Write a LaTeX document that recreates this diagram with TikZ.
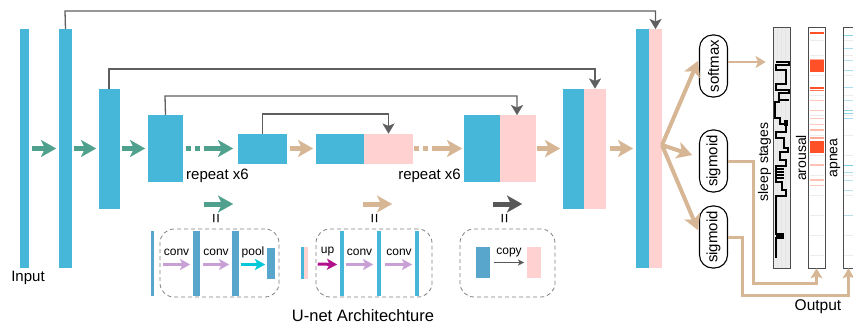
\documentclass[tikz,border=0pt]{standalone}
\usepackage{fontspec}
\setmainfont{Liberation Sans}
\usetikzlibrary{arrows.meta}
\definecolor{barblue}{RGB}{70,183,216}
\definecolor{barpink}{RGB}{255,209,209}
\definecolor{inblue}{RGB}{88,166,204}
\definecolor{ugreen}{RGB}{80,160,142}
\definecolor{utan}{RGB}{214,182,148}
\definecolor{skipgray}{RGB}{95,95,95}
\definecolor{lav}{RGB}{200,160,214}
\definecolor{pcyan}{RGB}{0,200,215}
\definecolor{umag}{RGB}{176,16,140}
\definecolor{dgray}{RGB}{88,88,88}
\definecolor{arred}{RGB}{255,80,40}
\definecolor{apcyan}{RGB}{110,200,225}
\definecolor{panelgray}{RGB}{236,236,236}
\begin{document}
\begin{tikzpicture}[x=1pt,y=-1pt,
  bar/.style={rectangle,fill=barblue,draw=none,inner sep=0pt,outer sep=0pt},
  pbar/.style={rectangle,fill=barpink,draw=none,inner sep=0pt,outer sep=0pt},
  ibar/.style={rectangle,fill=inblue,draw=none,inner sep=0pt,outer sep=0pt},
  fat/.style={line width=5pt,-{Stealth[length=15pt,width=17pt,inset=4pt,line width=0.1pt]}},
  garrow/.style={fat,draw=ugreen},
  tarrow/.style={fat,draw=utan},
  dash2/.style={dash pattern=on 5pt off 4pt on 5pt off 4pt on 60pt off 0pt},
  skip/.style={draw=skipgray,line width=1.3pt,-{Stealth[length=10pt,width=12pt,inset=2.5pt,line width=0.1pt]}},
  small/.style={line width=3pt,-{Stealth[length=10pt,width=11pt,inset=2.5pt,line width=0.1pt]}},
  dbox/.style={rectangle,draw=gray,dashed,dash pattern=on 4pt off 3pt,rounded corners=14pt,line width=0.8pt,inner sep=0pt},
  lab/.style={font=\fontsize{15}{18}\selectfont,inner sep=0pt},
  slab/.style={font=\fontsize{12}{14}\selectfont,inner sep=0pt},
  pill/.style={draw=black,line width=1.1pt,rounded corners=13pt,minimum width=62pt,minimum height=28pt,inner sep=0pt,rotate=90,font=\fontsize{15}{18}\selectfont},
  panel/.style={rectangle,draw=gray!60!black,line width=0.9pt,inner sep=0pt,minimum width=17pt,minimum height=241pt},
  tline/.style={draw=utan,line width=3pt,-{Stealth[length=10pt,width=12pt,inset=2.5pt,line width=0.1pt]}},
  eqs/.style={rotate=90,inner sep=0pt,font=\fontsize{17}{18}\selectfont}
]
\useasboundingbox (0,0) rectangle (853,327);

% encoder bars
\node[bar,minimum width=9pt,minimum height=239pt] (in) at (24.5,148.5) {};
\node[bar,minimum width=13pt,minimum height=239pt] (b1) at (65.5,148.5) {};
\node[bar,minimum width=21pt,minimum height=120pt] (b2) at (109.5,148.5) {};
\node[bar,minimum width=35pt,minimum height=67pt] (b3) at (165.5,148.5) {};
\node[bar,minimum width=49pt,minimum height=30pt] (b4) at (262.5,148.5) {};
% decoder bars
\node[bar,minimum width=48pt,minimum height=30pt] (u4b) at (340,148.5) {};
\node[pbar,minimum width=49pt,minimum height=30pt] (u4p) at (388.5,148.5) {};
\node[bar,minimum width=36pt,minimum height=67pt] (u3b) at (482,148.5) {};
\node[pbar,minimum width=36pt,minimum height=67pt] (u3p) at (518,148.5) {};
\node[bar,minimum width=21pt,minimum height=120pt] (u2b) at (573.5,148.5) {};
\node[pbar,minimum width=22pt,minimum height=120pt] (u2p) at (595,148.5) {};
\node[bar,minimum width=13pt,minimum height=239pt] (u1b) at (642.5,148.5) {};
\node[pbar,minimum width=13pt,minimum height=239pt] (u1p) at (655.5,148.5) {};

\node[lab] (inlab) at (28,277.5) {Input};

% skip connections
\draw[skip] (b1.north) -- (65,11) -| (u1p.north);
\draw[skip] ([xshift=-0.5pt]b2.north) -- (109,69) -| (u2p.north);
\draw[skip] (b3.north) -- (165,96) -| ([xshift=-1pt]u3p.north);
\draw[skip] (b4.north) -- (262.5,114) -| (u4p.north);

% forward arrows
\draw[garrow] ([xshift=3pt]in.east) -- ([xshift=-3pt]b1.west);
\draw[garrow] ([xshift=2pt]b1.east) -- ([xshift=-3pt]b2.west);
\draw[garrow] ([xshift=2pt]b2.east) -- ([xshift=-3pt]b3.west);
\draw[garrow,dash2] ([xshift=3pt]b3.east) -- ([xshift=-5pt]b4.west);
\draw[tarrow] ([xshift=3pt]b4.east) -- ([xshift=-3pt]u4b.west);
\draw[tarrow,dash2] ([xshift=1pt]u4p.east) -- ([xshift=-2pt]u3b.west);
\draw[tarrow] ([xshift=1pt]u3p.east) -- ([xshift=-3pt]u2b.west);
\draw[tarrow] ([xshift=4pt]u2p.east) -- ([xshift=-3pt]u1b.west);

\node[lab,anchor=west] (rep1) at (186,176) {repeat x6};
\node[lab,anchor=east] (rep2) at (461,176) {repeat x6};

% legend arrows
\coordinate (g1) at (204,204); \coordinate (g2) at (233,204);
\coordinate (t1) at (363,204); \coordinate (t2) at (392,204);
\coordinate (k1) at (493,204); \coordinate (k2) at (522,204);
\draw[garrow] (g1) -- (g2);
\draw[tarrow] (t1) -- (t2);
\draw[fat,draw=dgray,-{Stealth[length=15pt,width=17pt,inset=4pt,line width=0.1pt,fill=dgray]}] (k1) -- (k2);
\node[eqs] (e1) at (217.5,219) {=};
\node[eqs] (e2) at (376,219) {=};
\node[eqs] (e3) at (506,219) {=};

% inset box 1
\node[dbox,minimum width=119pt,minimum height=68pt] (box1) at (219.5,263) {};
\node[ibar,minimum width=3.5pt,minimum height=65pt] (ia) at (152.5,263.5) {};
\node[ibar,minimum width=7pt,minimum height=65pt] (ib) at (196.5,263.5) {};
\node[ibar,minimum width=7pt,minimum height=65pt] (ic) at (235.5,263.5) {};
\node[ibar,minimum width=8pt,minimum height=31pt] (id) at (271,263.5) {};
\draw[small,draw=lav] ([xshift=9pt,yshift=-1pt]ia.east) -- ([xshift=-3pt,yshift=-1pt]ib.west);
\draw[small,draw=lav] ([xshift=3pt,yshift=-1pt]ib.east) -- ([xshift=-3pt,yshift=-1pt]ic.west);
\draw[small,draw=pcyan] ([xshift=2pt,yshift=-1pt]ic.east) -- ([xshift=-2pt,yshift=-1pt]id.west);
\node[slab] (c1) at (176.5,252) {conv};
\node[slab] (c2) at (216,252) {conv};
\node[slab] (c3) at (253,252) {pool};

% inset box 2
\node[dbox,minimum width=116pt,minimum height=68pt] (box2) at (374,263) {};
\node[ibar,fill=barblue,minimum width=3.5pt,minimum height=32pt] (sa) at (302.5,263) {};
\node[pbar,minimum width=3.5pt,minimum height=32pt] (sb) at (306,263) {};
\node[ibar,fill=barblue,minimum width=4pt,minimum height=65pt] (ua) at (342,263.5) {};
\node[ibar,fill=barblue,minimum width=4pt,minimum height=65pt] (ub) at (379,263.5) {};
\node[ibar,fill=barblue,minimum width=4pt,minimum height=65pt] (uc) at (417,263.5) {};
\draw[small,draw=umag] ([xshift=10pt,yshift=-1pt]sb.east) -- ([xshift=-3pt,yshift=-1pt]ua.west);
\draw[small,draw=lav] ([xshift=2pt,yshift=-1pt]ua.east) -- ([xshift=-4pt,yshift=-1pt]ub.west);
\draw[small,draw=lav] ([xshift=4pt,yshift=-1pt]ub.east) -- ([xshift=-3pt,yshift=-1pt]uc.west);
\node[slab] (c4) at (327.5,252) {up};
\node[slab] (c5) at (359.5,252) {conv};
\node[slab] (c6) at (399,252) {conv};

% inset box 3
\node[dbox,minimum width=95pt,minimum height=68pt] (box3) at (507.5,263) {};
\node[ibar,minimum width=14pt,minimum height=31pt] (cpa) at (483,262.5) {};
\node[pbar,minimum width=14pt,minimum height=31pt] (cpb) at (534,262.5) {};
\draw[draw=dgray,line width=1.2pt,-{Stealth[length=6pt,width=6pt,inset=1.5pt,line width=0.1pt]}] ([xshift=4pt]cpa.east) -- ([xshift=-3pt]cpb.west);
\node[slab] (c7) at (509,252.5) {copy};

\node[font=\fontsize{16.5}{19}\selectfont,inner sep=0pt] (title) at (363,316) {U-net Architechture};

% output heads
\node[pill] (softmax) at (713.5,66) {softmax};
\node[pill] (sig1) at (713.5,161) {sigmoid};
\node[pill] (sig2) at (713.5,237) {sigmoid};
\coordinate (fan) at (662,145);
\draw[tarrow,line width=4pt] (fan) -- ([xshift=-1pt,yshift=5pt]softmax.north);
\draw[tarrow,line width=4pt] (fan) -- ([xshift=-7pt,yshift=6pt]sig1.north);
\draw[tarrow,line width=4pt] (fan) -- ([xshift=-1pt,yshift=7pt]sig2.north);

% output panels
\node[panel,fill=panelgray] (sleep) at (781.5,147.5) {};
\node[panel,fill=white] (arousal) at (816.5,147.5) {};
\node[panel,fill=white] (apnea) at (851.5,147.5) {};

\draw[tline,line width=2.5pt] ([yshift=4pt]softmax.south) -- ([xshift=-7pt,yshift=85.5pt]sleep.west);

% faint grid lines
\foreach \yy in {40,55,75,95,115,135,155,175,195,215,235,255} {
  \draw[gray!15,line width=0.5pt] (809.5,\yy) -- (823.5,\yy);
  \draw[gray!15,line width=0.5pt] (843.5,\yy) -- (853,\yy);
}
\foreach \xx in {777,781,785} \draw[white!80!gray,line width=0.4pt] (\xx,27.5) -- (\xx,267.5);

% arousal events
\foreach \yy/\ww/\oo in {33/1.5/1, 60/1.5/0.5, 66/12/1, 88/2/1, 90.5/1.5/0.8, 100/1/0.3, 110/1/0.3, 118/1/0.3, 124/1/0.3, 130/1.5/0.4, 146.5/12/1, 138/1.5/0.5, 165/1.5/0.35, 180/1.5/0.35, 185/1/0.3}
  \draw[arred,opacity=\oo,line width=\ww pt] (809.5,\yy) -- (823.5,\yy);
% apnea events
\foreach \yy/\oo in {35/0.8, 48/0.6, 60/0.5, 70/0.6, 87/0.6, 100/0.5, 110/0.8, 113/0.8, 118/0.6, 165/0.9, 172/0.6, 180/0.5, 190/0.5, 215/0.4}
  \draw[apcyan,opacity=\oo,line width=1pt] (843.5,\yy) -- (853,\yy);

% hypnogram
\draw[black,line width=1.3pt,line join=miter]
  (776,62) -- (789,62) -- (789,65) -- (776,65) -- (776,70) -- (786,70) -- (786,84) -- (776,84) -- (776,90) -- (789,90) -- (789,93) -- (779,93) -- (779,102) -- (775,102) -- (775,118) -- (780,118) -- (780,124) -- (786,124) -- (786,132) -- (776,132) -- (776,138) -- (784,138) -- (784,148) -- (788,148) -- (788,152) -- (780,152) -- (780,160) -- (786,160) -- (786,166) -- (776,166) -- (776,182) -- (782,182) -- (782,190) -- (786,190) -- (786,196) -- (776,196) -- (776,234) -- (783,234) -- (783,238) -- (776,238) -- (776,258);
\fill[black] (784,120) rectangle (788,126);
\fill[black] (776,234) rectangle (783,239);
\foreach \yy in {169,172,175,178} \draw[black,line width=1.2pt] (776,\yy) -- (784,\yy);
\draw[black,line width=1.2pt] (778,100) -- (789,100);

\node[rotate=90,font=\fontsize{14}{16}\selectfont,inner sep=0pt] (sslab) at (764.5,162) {sleep stages};
\node[rotate=90,font=\fontsize{14}{16}\selectfont,inner sep=0pt] (arlab) at (801,158) {arousal};
\node[rotate=90,font=\fontsize{14}{16}\selectfont,inner sep=0pt] (aplab) at (835,158) {apnea};

% routes to outputs
\draw[tline] ([yshift=0pt]sig1.south) -- ++(25,0) |- ([yshift=-15pt]arousal.south) -- (arousal.south);
\draw[tline] ([yshift=0pt]sig2.south) -- ++(14,0) |- ([xshift=-3pt,yshift=-27pt]apnea.south) -- ([xshift=-3pt]apnea.south);

\node[font=\fontsize{15.5}{18}\selectfont,inner sep=0pt] (outlab) at (818,307) {Output};
\end{tikzpicture}
\end{document}
